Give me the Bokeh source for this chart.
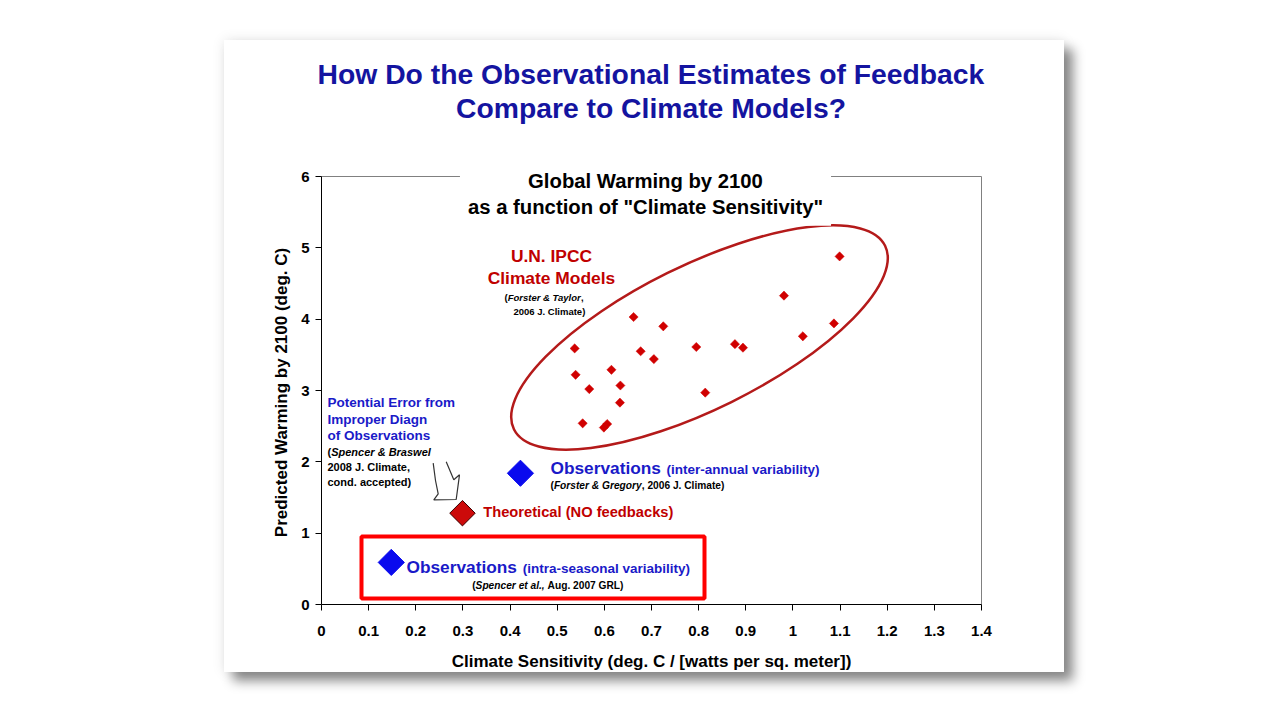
import math
from bokeh.plotting import figure
from bokeh.models import Label, FixedTicker, Range1d, Spacer
from bokeh.layouts import row, column
from bokeh.embed import file_html
from bokeh.resources import INLINE

# ------------------------------------------------------------------ data
model_sensitivity = [1.099, 0.981, 1.087, 1.021, 0.662, 0.725, 0.537, 0.677,
                     0.705, 0.795, 0.877, 0.894, 0.539, 0.615, 0.568, 0.634,
                     0.633, 0.814, 0.554, 0.599, 0.606]
model_warming = [4.88, 4.33, 3.94, 3.76, 4.03, 3.90, 3.59, 3.55,
                 3.44, 3.61, 3.65, 3.60, 3.22, 3.29, 3.02, 3.07,
                 2.83, 2.97, 2.54, 2.48, 2.53]
obs_interannual_x = [0.422]
obs_interannual_y = [1.84]
theoretical_x = [0.299]
theoretical_y = [1.28]
obs_intraseasonal_x = [0.148]
obs_intraseasonal_y = [0.59]

x_ticks = [0, 0.1, 0.2, 0.3, 0.4, 0.5, 0.6, 0.7, 0.8, 0.9, 1, 1.1, 1.2, 1.3, 1.4]
x_tick_labels = ["0", "0.1", "0.2", "0.3", "0.4", "0.5", "0.6", "0.7", "0.8",
                 "0.9", "1", "1.1", "1.2", "1.3", "1.4"]
y_ticks = [0, 1, 2, 3, 4, 5, 6]
X_MIN, X_MAX = 0, 1.4
Y_MIN, Y_MAX = 0, 6

# ------------------------------------------------------------------ layout
FONT = "Liberation Sans"
SLIDE_LEFT, SLIDE_TOP = 224, 40          # page position of the slide
SLIDE_W, SLIDE_H = 840, 632
FL, FR, FT, FB = 321, 981, 176, 604      # axes box in page pixels


def dx(px):
    return X_MIN + (px - FL) / (FR - FL) * (X_MAX - X_MIN)


def dy(py):
    return Y_MIN + (FB - py) / (FB - FT) * (Y_MAX - Y_MIN)


# Arial / Liberation Sans Bold advance widths (1/1000 em)
AW = {' ': 278, '(': 333, ')': 333, ',': 278, '.': 278, '&': 722, '-': 333,
      '?': 611, '"': 474, '/': 278, '[': 333, ']': 333,
      'A': 722, 'B': 722, 'C': 722, 'D': 722, 'E': 667, 'F': 611, 'G': 778,
      'H': 722, 'I': 278, 'J': 556, 'K': 722, 'L': 611, 'M': 833, 'N': 722,
      'O': 778, 'P': 667, 'R': 722, 'S': 667, 'T': 611, 'U': 722, 'W': 944,
      'a': 556, 'b': 611, 'c': 556, 'd': 611, 'e': 556, 'f': 333, 'g': 611,
      'h': 611, 'i': 278, 'k': 556, 'l': 278, 'm': 889, 'n': 611, 'o': 611,
      'p': 611, 'r': 389, 's': 556, 't': 333, 'u': 611, 'v': 556, 'w': 778,
      'y': 556}


def text_w(s, size):
    return sum(AW.get(ch, 556) for ch in s) * size / 1000.0


# The plot frame covers the whole slide; the axes sit at x=0 / y=0 inside it,
# so every title and label can be placed freely without being clipped.
p = figure(width=SLIDE_W, height=SLIDE_H,
           x_range=Range1d(dx(SLIDE_LEFT), dx(SLIDE_LEFT + SLIDE_W)),
           y_range=Range1d(dy(SLIDE_TOP + SLIDE_H), dy(SLIDE_TOP)),
           output_backend="svg", toolbar_location=None,
           min_border_left=0, min_border_right=0,
           min_border_top=0, min_border_bottom=0)
p.title.visible = False
p.background_fill_color = "white"
p.border_fill_color = "white"
p.outline_line_color = None
p.xgrid.visible = False
p.ygrid.visible = False
p.styles = {"box-shadow": "9px 9px 11px rgba(0,0,0,0.45), 0px 0px 12px rgba(0,0,0,0.10)"}

TITLE_BLUE = "#1414a0"
TEXT_BLUE = "#1a1ac8"
DARK_RED = "#c00000"

for ax in (p.xaxis[0], p.yaxis[0]):
    ax.fixed_location = 0
    ax.axis_line_color = "black"
    ax.major_tick_line_color = "black"
    ax.major_tick_out = 6
    ax.major_tick_in = 0
    ax.minor_tick_out = 0
    ax.minor_tick_in = 0
    ax.major_label_text_font = FONT
    ax.major_label_text_font_size = "15px"
    ax.major_label_text_font_style = "bold"
    ax.major_label_text_color = "black"

p.xaxis.ticker = FixedTicker(ticks=x_ticks)
p.xaxis.bounds = (X_MIN, X_MAX)
p.xaxis.major_label_overrides = dict(zip(x_ticks, x_tick_labels))
p.xaxis.major_label_standoff = 15
p.yaxis.ticker = FixedTicker(ticks=y_ticks)
p.yaxis.bounds = (Y_MIN, Y_MAX)
p.yaxis.major_label_standoff = 6

# gray top and right edges of the chart box
p.segment(x0=[X_MIN, X_MAX], y0=[Y_MAX, Y_MIN], x1=[X_MAX, X_MAX], y1=[Y_MAX, Y_MAX],
          line_color="#808080", line_width=1)

# ellipse around the models (screen-sized, tilted)
ellipse_center_px = (699, 337)
p.ellipse(x=[dx(ellipse_center_px[0])], y=[dy(ellipse_center_px[1])],
          width=[414], height=[144], angle=[0.459],
          width_units="screen", height_units="screen",
          fill_color=None, line_color="#b41a1a", line_width=2.5)

# red highlight box
box_px = (361, 704, 536, 598)
p.quad(left=[dx(box_px[0])], right=[dx(box_px[1])],
       top=[dy(box_px[2])], bottom=[dy(box_px[3])],
       fill_color=None, line_color="#ff0000", line_width=4)

# hand-drawn hollow arrow
arrow_px = [(432.7, 462.7), (435, 480), (437.7, 493.3), (433.3, 499.3),
            (455.7, 499), (459, 474.3), (453.3, 479.3), (445.7, 461.3)]
p.line(x=[dx(a) for a, b in arrow_px], y=[dy(b) for a, b in arrow_px],
       line_color="#333333", line_width=1.2)

# markers
p.scatter(model_sensitivity, model_warming, marker="square", angle=math.pi / 4,
          size=6.5, fill_color="#d00000", line_color="#d00000", line_width=0.5)
p.scatter(obs_interannual_x, obs_interannual_y, marker="square", angle=math.pi / 4,
          size=18.5, fill_color="#0a0aee", line_color="#0a0aee")
p.scatter(theoretical_x, theoretical_y, marker="square", angle=math.pi / 4,
          size=18, fill_color="#cc0a0a", line_color="#3a0000", line_width=1)
p.scatter(obs_intraseasonal_x, obs_intraseasonal_y, marker="square", angle=math.pi / 4,
          size=18.5, fill_color="#0a0aee", line_color="#0a0aee")


def add_text(px, py, parts, size, color="black", align="left"):
    """parts: list of (text, italic). px = left/center page pixel, py = baseline."""
    total = sum(text_w(t, size) for t, _ in parts)
    x = px if align == "left" else px - total / 2.0
    y_mid = py - 0.35 * size
    for t, italic in parts:
        lead = len(t) - len(t.lstrip(" "))
        shown = t.strip(" ")
        if shown:
            p.add_layout(Label(x=dx(x + text_w(" " * lead, size)), y=dy(y_mid), text=shown,
                               text_font=FONT, text_font_size=f"{size}px",
                               text_font_style="bold italic" if italic else "bold",
                               text_color=color, text_align="left",
                               text_baseline="middle"))
        x += text_w(t, size)


# slide title
add_text(650.5, 83, [("How Do the Observational Estimates of Feedback", False)], 28.3,
         TITLE_BLUE, "center")
add_text(650.5, 117, [("Compare to Climate Models?", False)], 28.3, TITLE_BLUE, "center")

# chart title with white background cutting the top edge line
p.add_layout(Label(x=dx(645), y=dy(193.5),
                   text='Global Warming by 2100\nas a function of "Climate Sensitivity"',
                   text_font=FONT, text_font_size="20.3px", text_font_style="bold",
                   text_color="black", text_align="center", text_baseline="middle",
                   text_line_height=1.15, background_fill_color="white",
                   padding=8))

# axis titles
p.add_layout(Label(x=dx(651), y=dy(661),
                   text="Climate Sensitivity (deg. C / [watts per sq. meter])",
                   text_font=FONT, text_font_size="17px", text_font_style="bold",
                   text_color="black", text_align="center", text_baseline="middle"))
p.add_layout(Label(x=dx(281), y=dy(392),
                   text="Predicted Warming by 2100 (deg. C)", angle=math.pi / 2,
                   text_font=FONT, text_font_size="17px", text_font_style="bold",
                   text_color="black", text_align="center", text_baseline="middle"))

# IPCC models
add_text(551, 262, [("U.N. IPCC", False)], 17.4, DARK_RED, "center")
add_text(551, 284, [("Climate Models", False)], 17.4, DARK_RED, "center")
add_text(504, 300.5, [("(", False), ("Forster & Taylor", True), (",", False)], 9.5)
add_text(513, 314, [("2006 J. Climate)", False)], 9.5)

# potential error note
add_text(327, 406.5, [("Potential Error from", False)], 13.5, TEXT_BLUE)
add_text(327, 423.5, [("Improper Diagn", False)], 13.5, TEXT_BLUE)
add_text(327, 440, [("of Observations", False)], 13.5, TEXT_BLUE)
add_text(327, 455, [("(", False), ("Spencer & Braswel", True)], 11)
add_text(327, 470.5, [("2008 J. Climate,", False)], 11)
add_text(327, 485, [("cond. accepted)", False)], 11)

# inter-annual observations
add_text(550, 473.5, [("Observations", False)], 17.3, TEXT_BLUE)
add_text(666, 473.5, [("(inter-annual variability)", False)], 13.5, TEXT_BLUE)
add_text(550, 489, [("(", False), ("Forster & Gregory", True),
                    (", 2006 J. Climate)", False)], 10.2)

# theoretical
add_text(482.7, 516.5, [("Theoretical (NO feedbacks)", False)], 14.7, DARK_RED)

# intra-seasonal observations
add_text(406, 573, [("Observations", False)], 17.3, TEXT_BLUE)
add_text(522.3, 573, [("(intra-seasonal variability)", False)], 13.5, TEXT_BLUE)
add_text(471.7, 589, [("(", False), ("Spencer et al.,", True),
                      (" Aug. 2007 GRL)", False)], 10.2)

layout = column(Spacer(height=SLIDE_TOP),
                row(Spacer(width=SLIDE_LEFT), p))

open("out.html", "w").write(file_html(layout, INLINE))
